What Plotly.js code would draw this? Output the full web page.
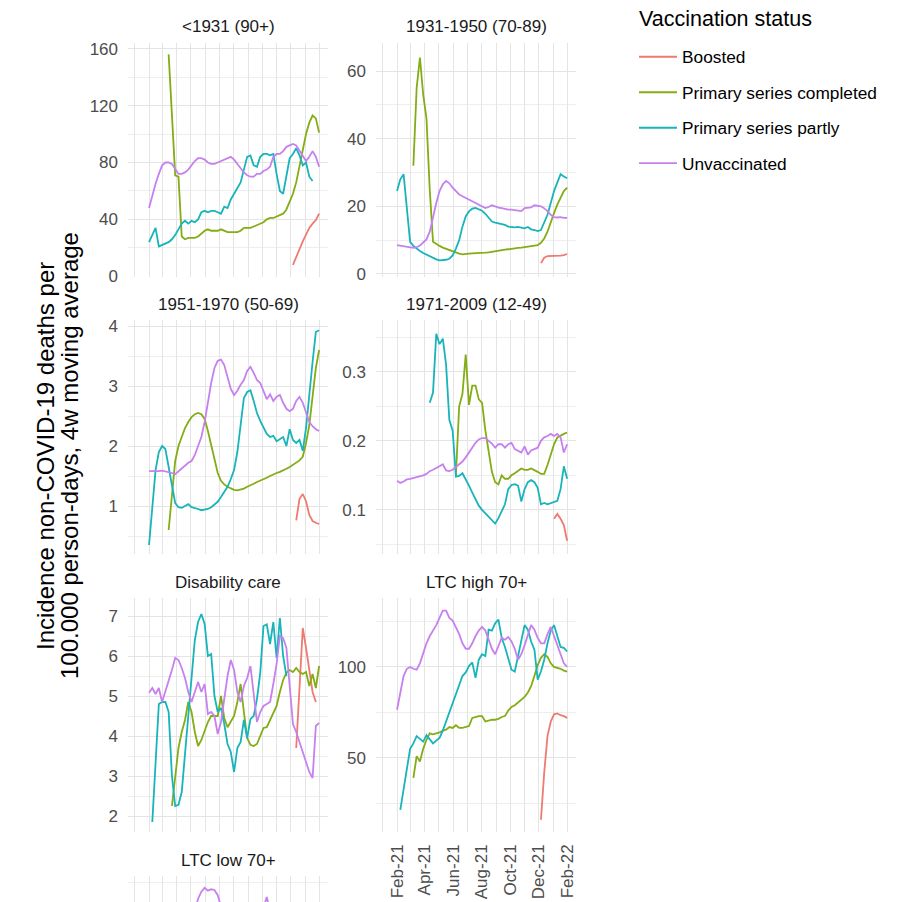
<!DOCTYPE html>
<html><head><meta charset="utf-8">
<script src="https://cdn.plot.ly/plotly-3.0.1.min.js"></script>
<style>html,body{margin:0;padding:0;background:#fff;overflow:hidden;} #wrap{width:902px;height:902px;overflow:hidden;position:relative;} #chart{width:902px;height:1200px;}</style>
</head><body><div id="wrap"><div id="chart"></div></div>
<script>
// ---------- DATA ----------
const dates = ["2021-02-01","2021-02-08","2021-02-15","2021-02-22","2021-03-01","2021-03-08","2021-03-15","2021-03-22","2021-03-29",
"2021-04-05","2021-04-12","2021-04-19","2021-04-26","2021-05-03","2021-05-10","2021-05-17","2021-05-24","2021-05-31",
"2021-06-07","2021-06-14","2021-06-21","2021-06-28","2021-07-05","2021-07-12","2021-07-19","2021-07-26",
"2021-08-02","2021-08-09","2021-08-16","2021-08-23","2021-08-30","2021-09-06","2021-09-13","2021-09-20","2021-09-27",
"2021-10-04","2021-10-11","2021-10-18","2021-10-25","2021-11-01","2021-11-08","2021-11-15","2021-11-22","2021-11-29",
"2021-12-06","2021-12-13","2021-12-20","2021-12-27","2022-01-03","2022-01-10","2022-01-17","2022-01-24","2022-01-31"];

// x ticks: gridline every month, label every second month
const monthTicks = ["2021-01-01","2021-02-01","2021-03-01","2021-04-01","2021-05-01","2021-06-01","2021-07-01","2021-08-01",
  "2021-09-01","2021-10-01","2021-11-01","2021-12-01","2022-01-01","2022-02-01"];
const monthLabels = ["","Feb-21","","Apr-21","","Jun-21","","Aug-21","","Oct-21","","Dec-21","","Feb-22"];

const seriesNames = ["Boosted", "Primary series completed", "Primary series partly", "Unvaccinated"];
const panelTitles = ["&lt;1931 (90+)", "1931-1950 (70-89)", "1951-1970 (50-69)", "1971-2009 (12-49)", "Disability care", "LTC high 70+", "LTC low 70+"];
const yTitleLines = ["Incidence non-COVID-19 deaths per", "100.000 person-days, 4w moving average"];
const legendTitle = "Vaccination status";

const N = null;
// Panel 1: <1931 (90+)
const p1Boosted = [N,N,N,N,N,N,N,N,N,N,N,N,N,N,N,N,N,N,N,N,N,N,N,N,N,N,N,N,N,N,N,N,N,N,N,N,N,N,N,N,N,N,N,N,
  8,13,19,24.5,29,34,37,39.5,44];
const p1Completed = [N,N,N,N,N,N,
  156,113,71,70,28,26,27,27,27,28,30,32,33,32,32,32,33,32,31,31,31,31,32,34,34,34,35,36,37,38,40,41,41,42,43,44,47,52,58,66,77,88,100,108,113,111,101];
const p1Partly = [24,29,34,21,22,23,24,26,29,33,37,39,37,39,38,40,45,46,45,46,46,45,44,49,48,54,58,62,66,75,84,85,78,77,84,86,86,85,86,72,
  60,58,72,83,86,90,85,78,80,70,67,N,N];
const p1Unvacc = [48,57,65,72,78,80,80,79,75,72,72,73,75,78,81,83,83,82,80,79,79,80,81,82,83,84,82,79,76,73,71,70,70,72,72,74,75,77,84,86,
  86,88,91,92,93,92,88,84,81,84,88,84,77];

// Panel 2: 1931-1950 (70-89)
const p2Boosted = [N,N,N,N,N,N,N,N,N,N,N,N,N,N,N,N,N,N,N,N,N,N,N,N,N,N,N,N,N,N,N,N,N,N,N,N,N,N,N,N,N,N,N,N,
  3.2,4.8,5.3,5.3,5.2,5.2,5.4,5.6,5.9];
const p2Completed = [N,N,N,N,N,
  32,55,64,53,46,25,9.5,8.8,8.3,7.8,7.4,7.0,6.6,6.3,6.0,5.8,5.8,6.0,6.1,6.1,6.2,6.2,6.3,6.4,6.6,6.8,6.9,7.1,7.2,7.3,7.5,7.6,7.7,7.8,7.9,8.1,8.2,8.3,8.5,9.2,10.5,12.5,15.5,18,20.5,22.5,24.5,25.5];
const p2Partly = [24.5,28,29.5,19,9.5,8.3,7.5,6.8,6.2,5.7,5.2,4.7,4.3,4.0,4.0,4.2,4.5,5.5,7.5,10,14,17,18.5,19.3,19.5,19.2,18.7,17.8,16.5,15.5,
  15.2,15,14.8,14.5,14,13.8,13.8,13.9,13.6,13.5,13.9,13.2,13,12.7,13,15.5,17.5,21,24.5,27,29.5,28.8,28.3];
const p2Unvacc = [8.5,8.3,8.2,8.0,7.8,7.7,7.9,8.4,9.3,10.2,12.5,17,21,24.5,26.5,27.5,26.8,25.5,24.5,23.5,23,22.5,22,21.5,21,20.5,20,19.5,19.8,20.3,
  20,19.6,19.5,19.2,19,19,18.9,18.7,18.6,19.5,19.5,19.7,20.3,20.1,20,19.4,18.6,17.5,16.8,16.7,16.8,16.6,16.6];

// Panel 3: 1951-1970 (50-69)
const p3Boosted = [N,N,N,N,N,N,N,N,N,N,N,N,N,N,N,N,N,N,N,N,N,N,N,N,N,N,N,N,N,N,N,N,N,N,N,N,N,N,N,N,N,N,N,N,N,
  0.76,1.12,1.2,1.08,0.85,0.75,0.72,0.7];
const p3Completed = [N,N,N,N,N,N,
  0.6,1.2,1.75,2.0,2.15,2.3,2.4,2.48,2.53,2.55,2.53,2.45,2.25,2.0,1.8,1.55,1.42,1.36,1.32,1.29,1.27,1.26,1.27,1.29,1.32,1.34,1.37,1.4,1.42,1.44,
  1.47,1.5,1.53,1.55,1.57,1.59,1.62,1.65,1.69,1.72,1.76,1.82,2.05,2.35,2.85,3.3,3.6];
const p3Partly = [0.35,0.95,1.6,1.9,2.0,1.95,1.65,1.37,1.05,0.98,0.97,1.0,1.03,0.98,0.97,0.95,0.93,0.94,0.95,0.98,1.02,1.07,1.15,1.24,1.32,1.45,1.6,1.9,2.35,2.8,
  2.9,2.93,2.75,2.55,2.42,2.3,2.2,2.15,2.17,2.08,2.12,2.15,2.0,2.28,2.1,2.05,2.1,1.92,2.3,2.9,3.4,3.9,3.93];
const p3Unvacc = [1.58,1.58,1.57,1.58,1.59,1.58,1.56,1.55,1.53,1.58,1.62,1.67,1.72,1.75,1.85,2.0,2.15,2.4,2.75,3.05,3.3,3.42,3.44,3.35,3.15,2.95,2.85,2.92,3.02,3.1,
  3.25,3.32,3.22,3.1,3.05,2.9,2.78,2.86,2.75,2.82,2.85,2.72,2.62,2.58,2.62,2.75,2.82,2.72,2.55,2.4,2.33,2.28,2.25];

// Panel 4: 1971-2009 (12-49)
const p4Boosted = [N,N,N,N,N,N,N,N,N,N,N,N,N,N,N,N,N,N,N,N,N,N,N,N,N,N,N,N,N,N,N,N,N,N,N,N,N,N,N,N,N,N,N,N,N,N,N,N,
  0.087,0.094,0.087,0.078,0.055];
const p4Completed = [N,N,N,N,N,N,N,N,N,N,N,N,N,N,N,N,N,N,
  0.15,0.25,0.268,0.325,0.252,0.28,0.28,0.26,0.255,0.215,0.185,0.155,0.14,0.137,0.15,0.145,0.145,0.15,0.153,0.157,0.16,0.158,0.158,0.16,0.158,0.155,0.152,0.152,0.165,0.18,
  0.195,0.205,0.208,0.21,0.212];
const p4Partly = [N,N,N,N,N,N,N,N,N,N,
  0.255,0.27,0.355,0.34,0.348,0.31,0.23,0.215,0.148,0.149,0.153,0.145,0.135,0.125,0.115,0.106,0.1,0.095,0.09,0.085,0.08,0.088,0.097,0.108,0.13,0.136,0.137,0.135,0.112,0.13,
  0.14,0.143,0.14,0.132,0.108,0.11,0.108,0.11,0.111,0.113,0.13,0.163,0.145];
const p4Unvacc = [0.142,0.139,0.141,0.144,0.145,0.146,0.147,0.149,0.15,0.152,0.156,0.158,0.16,0.163,0.166,0.157,0.156,0.158,0.162,0.166,0.17,0.176,0.183,0.19,0.197,0.202,0.204,0.204,0.2,0.196,
  0.19,0.195,0.195,0.19,0.195,0.197,0.188,0.185,0.183,0.192,0.18,0.186,0.188,0.19,0.2,0.205,0.207,0.21,0.207,0.21,0.205,0.183,0.195];

// Panel 5: Disability care
const p5Boosted = [N,N,N,N,N,N,N,N,N,N,N,N,N,N,N,N,N,N,N,N,N,N,N,N,N,N,N,N,N,N,N,N,N,N,N,N,N,N,N,N,N,N,N,N,N,
  3.7,5.3,6.7,6.2,5.6,5.1,4.85,N];
const p5Completed = [N,N,N,N,N,N,N,
  2.25,2.9,3.7,4.1,4.4,4.85,4.6,4.1,3.75,3.9,4.15,4.35,4.5,4.5,4.5,5.0,4.45,4.22,4.35,4.5,4.85,5.3,4.6,3.95,3.78,3.75,3.8,4.0,4.2,4.22,4.4,4.55,4.75,5.1,5.4,5.58,5.65,5.6,5.7,5.6,
  5.55,5.6,5.25,5.55,5.2,5.75];
const p5Partly = [N,1.85,3.5,4.8,4.85,4.85,4.6,3.0,2.25,2.28,2.6,3.5,4.5,5.5,6.4,6.85,7.05,6.8,6.0,6.05,5.0,4.6,4.7,4.3,3.8,3.6,3.1,3.7,3.85,4.4,
  3.95,4.42,4.5,4.92,5.58,6.75,6.79,6.3,6.85,5.95,6.95,6.0,5.5,N,N,N,N,N,N,N,N,N,N];
const p5Unvacc = [5.08,5.2,5.05,5.2,4.85,5.1,5.35,5.65,5.95,5.9,5.7,5.45,5.1,4.85,5.1,5.35,5.1,5.3,4.55,4.6,4.5,4.05,4.35,5.0,5.5,5.9,5.65,5.1,4.85,5.25,
  5.45,5.75,5.1,4.35,4.6,4.75,4.8,4.85,5.3,5.8,6.5,6.45,6.2,5.2,4.3,4.1,3.85,3.6,3.35,3.1,2.95,4.25,4.33];

// Panel 6: LTC high 70+
const p6Boosted = [N,N,N,N,N,N,N,N,N,N,N,N,N,N,N,N,N,N,N,N,N,N,N,N,N,N,N,N,N,N,N,N,N,N,N,N,N,N,N,N,N,N,N,N,
  16,42,62,70,74,74.5,73.5,73,72];
const p6Completed = [N,N,N,N,N,
  39,51,48,55,60,63.5,63,63.5,64,65,65.5,67,66.5,68,66.5,66.5,67,67.5,72,72.5,73,73,70,70.5,71,71,71.5,72.5,73,76,78,79,80.5,82,83.5,86,89.5,95,101,105,
  107,105.5,102,100,99.5,99,98,97.5];
const p6Partly = [N,21.5,33,44,55,58,62,60.5,59,62.5,60,58,59.5,61,65,70,74.5,79,84,89,95,97,100.5,102.5,94,104,107,106,120.5,120,
  124,126,116,111,104,98.5,97.5,106,115,123,120.5,114,109.5,93,97.5,104,113,120,123,117.5,111,110.5,108.5];
const p6Unvacc = [76.5,86,95,99,100,99,98.5,102,108,113,117,120,123,127,131,131,127,125.5,122,118,113,110,110,113,117,120,122,120,115,110,
  107,111,116,115,116.5,114,110,104,107,112,117,123,120.5,116,113,113,118,122,117,112,108,102,100];

// Panel 7: LTC low 70+ (only the top of this panel is visible)
const p7Unvacc = [40,45,48,50,52,54,55,56,57,58,58,59,60,61,62,65.5,67.5,68.6,67.8,68.2,68,66.5,63.5,60,58,57,56,57,58,57,
  56,57,58,59,60,63,66,62,60,59,60,61,60,59,58,57,56,55,54,53,52,52,51];

const panelSeries = [
  [p1Boosted, p1Completed, p1Partly, p1Unvacc],
  [p2Boosted, p2Completed, p2Partly, p2Unvacc],
  [p3Boosted, p3Completed, p3Partly, p3Unvacc],
  [p4Boosted, p4Completed, p4Partly, p4Unvacc],
  [p5Boosted, p5Completed, p5Partly, p5Unvacc],
  [p6Boosted, p6Completed, p6Partly, p6Unvacc],
  [null, null, null, p7Unvacc]
];

// ---------- STYLE / LAYOUT ----------
const colors = ["#EE7A70", "#84AC14", "#17B4BA", "#C681EE"];
const W = 902, H = 1200;
const colX = [[128, 328], [376, 576]];
const rowTop = [43, 320, 598, 876];
const panelH = 234;
const panelPos = [[0,0],[1,0],[0,1],[1,1],[0,2],[1,2],[0,3]]; // [col,row]
const yRanges = [[-0.5,164],[-0.9,68.3],[0.2,4.1],[0.036,0.375],[1.6,7.45],[9.3,137.9],[5,72]];
const yDticks = [40,20,1,0.1,1,50,20];
const xRange = ["2020-12-18", "2022-02-19"];
const showXLabels = [false,false,false,false,false,true,false];
const showYLabels = [true,true,true,true,true,true,false];

const gridMajor = "#E4E4E4", gridMinor = "#EEEEEE";
const fontFam = "Liberation Sans, Arial, Helvetica, sans-serif";

const traces = [];
const layout = {
  width: W, height: H,
  margin: {l:0, r:0, t:0, b:0},
  paper_bgcolor: "#fff", plot_bgcolor: "#fff",
  font: {family: fontFam, size: 17, color: "#4D4D4D"},
  showlegend: true,
  legend: {
    x: 634/W, y: 1 - 39/H, xanchor: "left", yanchor: "top",
    font: {size: 17.3, color: "#000"}, itemwidth: 38,
    tracegroupgap: 10, traceorder: "grouped", bgcolor: "rgba(0,0,0,0)"
  },
  annotations: [],
  hovermode: false
};

panelPos.forEach((pos, i) => {
  const [c, r] = pos;
  const sfx = i === 0 ? "" : String(i + 1);
  const x0 = colX[c][0] / W, x1 = colX[c][1] / W;
  const yTop = 1 - rowTop[r] / H, yBot = 1 - (rowTop[r] + panelH) / H;
  layout["xaxis" + sfx] = {
    domain: [x0, x1], anchor: "y" + sfx, type: "date", range: xRange,
    tickmode: "array", tickvals: monthTicks, ticktext: monthLabels, tickangle: -90,
    showticklabels: showXLabels[i], ticks: "", ticklabelstandoff: 8,
    showgrid: true, gridcolor: gridMajor, gridwidth: 1, zeroline: false, showline: false,
    tickfont: {size: 17, color: "#4D4D4D"},
    fixedrange: true
  };
  const dt = yDticks[i];
  layout["yaxis" + sfx] = {
    domain: [yBot, yTop], anchor: "x" + sfx, range: yRanges[i],
    tick0: 0, dtick: dt, ticks: "", ticklabelstandoff: 9, showticklabels: showYLabels[i],
    showgrid: true, gridcolor: gridMajor, gridwidth: 1, zeroline: false, showline: false,
    tickfont: {size: 17, color: "#4D4D4D"},
    minor: {tick0: dt / 2, dtick: dt, showgrid: true, gridcolor: gridMinor, gridwidth: 1},
    fixedrange: true
  };
  layout.annotations.push({
    text: panelTitles[i], xref: "paper", yref: "paper",
    x: (x0 + x1) / 2, y: 1 - (rowTop[r] - 16) / H, xanchor: "center", yanchor: "middle",
    showarrow: false, font: {size: 17, color: "#1A1A1A", family: fontFam}
  });
  panelSeries[i].forEach((vals, s) => {
    if (!vals) return;
    traces.push({
      type: "scatter", mode: "lines", x: dates, y: vals,
      xaxis: "x" + sfx, yaxis: "y" + sfx,
      name: seriesNames[s], legendgroup: seriesNames[s], legendrank: s + 1,
      showlegend: i === 0,
      line: {color: colors[s], width: 1.8}, connectgaps: false
    });
  });
});

// legend title
layout.annotations.push({
  text: legendTitle, xref: "paper", yref: "paper",
  x: 637 / W, y: 1 - 19 / H, xanchor: "left", yanchor: "middle",
  showarrow: false, font: {size: 21.5, color: "#000", family: fontFam}
});

// y axis title (two centred lines)
const yTitleX = [45, 69];
yTitleLines.forEach((t, k) => {
  layout.annotations.push({
    text: t, xref: "paper", yref: "paper",
    x: yTitleX[k] / W, y: 1 - 456 / H, xanchor: "center", yanchor: "middle",
    textangle: -90, showarrow: false,
    font: {size: 24, color: "#000", family: fontFam}
  });
});

Plotly.newPlot("chart", traces, layout, {staticPlot: true, displayModeBar: false});
</script></body></html>
